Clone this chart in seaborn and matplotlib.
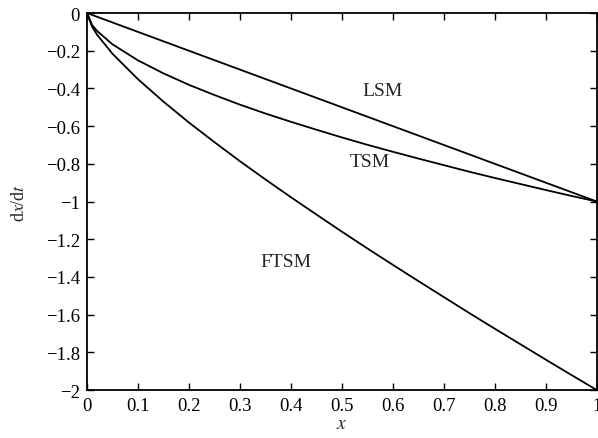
import pandas as pd
import seaborn as sns
import matplotlib.pyplot as plt
from matplotlib.ticker import FuncFormatter

# values
x_vals = [0, 0.01, 0.02, 0.05, 0.1, 0.15, 0.2, 0.25, 0.3, 0.35, 0.4, 0.45, 0.5,
          0.55, 0.6, 0.65, 0.7, 0.75, 0.8, 0.85, 0.9, 0.95, 1.0]
lsm = [0, -0.01, -0.02, -0.05, -0.1, -0.15, -0.2, -0.25, -0.3, -0.35, -0.4, -0.45, -0.5,
       -0.55, -0.6, -0.65, -0.7, -0.75, -0.8, -0.85, -0.9, -0.95, -1.0]
tsm = [0, -0.063, -0.096, -0.166, -0.251, -0.32, -0.381, -0.435, -0.486, -0.533, -0.577,
       -0.619, -0.66, -0.699, -0.736, -0.772, -0.807, -0.842, -0.875, -0.907, -0.939, -0.97, -1.0]
ftsm = [0, -0.073, -0.116, -0.216, -0.351, -0.47, -0.581, -0.685, -0.786, -0.883, -0.977,
        -1.069, -1.16, -1.249, -1.336, -1.422, -1.507, -1.592, -1.675, -1.757, -1.839, -1.92, -2.0]
labels = ["LSM", "TSM", "FTSM"]
label_pos = [(0.58, -0.41), (0.555, -0.79), (0.39, -1.32)]

df = pd.concat([
    pd.DataFrame({"x": x_vals, "y": lsm, "mode": "LSM"}),
    pd.DataFrame({"x": x_vals, "y": tsm, "mode": "TSM"}),
    pd.DataFrame({"x": x_vals, "y": ftsm, "mode": "FTSM"}),
])

sns.set_style("ticks")
plt.rcParams['font.family'] = ['Liberation Serif', 'DejaVu Serif']
plt.rcParams['mathtext.fontset'] = 'stix'

fig = plt.figure(figsize=(5.98, 4.39), dpi=100)
ax = fig.add_axes([0.1455, 0.1093, 0.8525, 0.8587])

sns.lineplot(data=df, x="x", y="y", units="mode", estimator=None, color="black",
             linewidth=1.3, legend=False, ax=ax)

for name, (tx, ty) in zip(labels, label_pos):
    ax.text(tx, ty, name, ha="center", va="center", fontsize=14)

ax.set_xlim(0, 1)
ax.set_ylim(-2, 0)
ax.set_xticks([i / 10 for i in range(11)])
ax.set_yticks([-2 + i * 0.2 for i in range(11)])
fmt = FuncFormatter(lambda v, p: ("%g" % round(v, 2)).replace("-", "\u2212"))
ax.xaxis.set_major_formatter(fmt)
ax.yaxis.set_major_formatter(fmt)
ax.tick_params(direction="in", top=True, right=True, length=5, width=1,
               labelsize=13.5, pad=5, colors="black")
for s in ax.spines.values():
    s.set_visible(True)
    s.set_linewidth(1.3)
    s.set_color("black")

ax.set_xlabel("$x$", fontsize=14, labelpad=1)
ax.set_ylabel("d$x$/d$t$", fontsize=13, labelpad=13)

fig.savefig("out.png", dpi=100)
